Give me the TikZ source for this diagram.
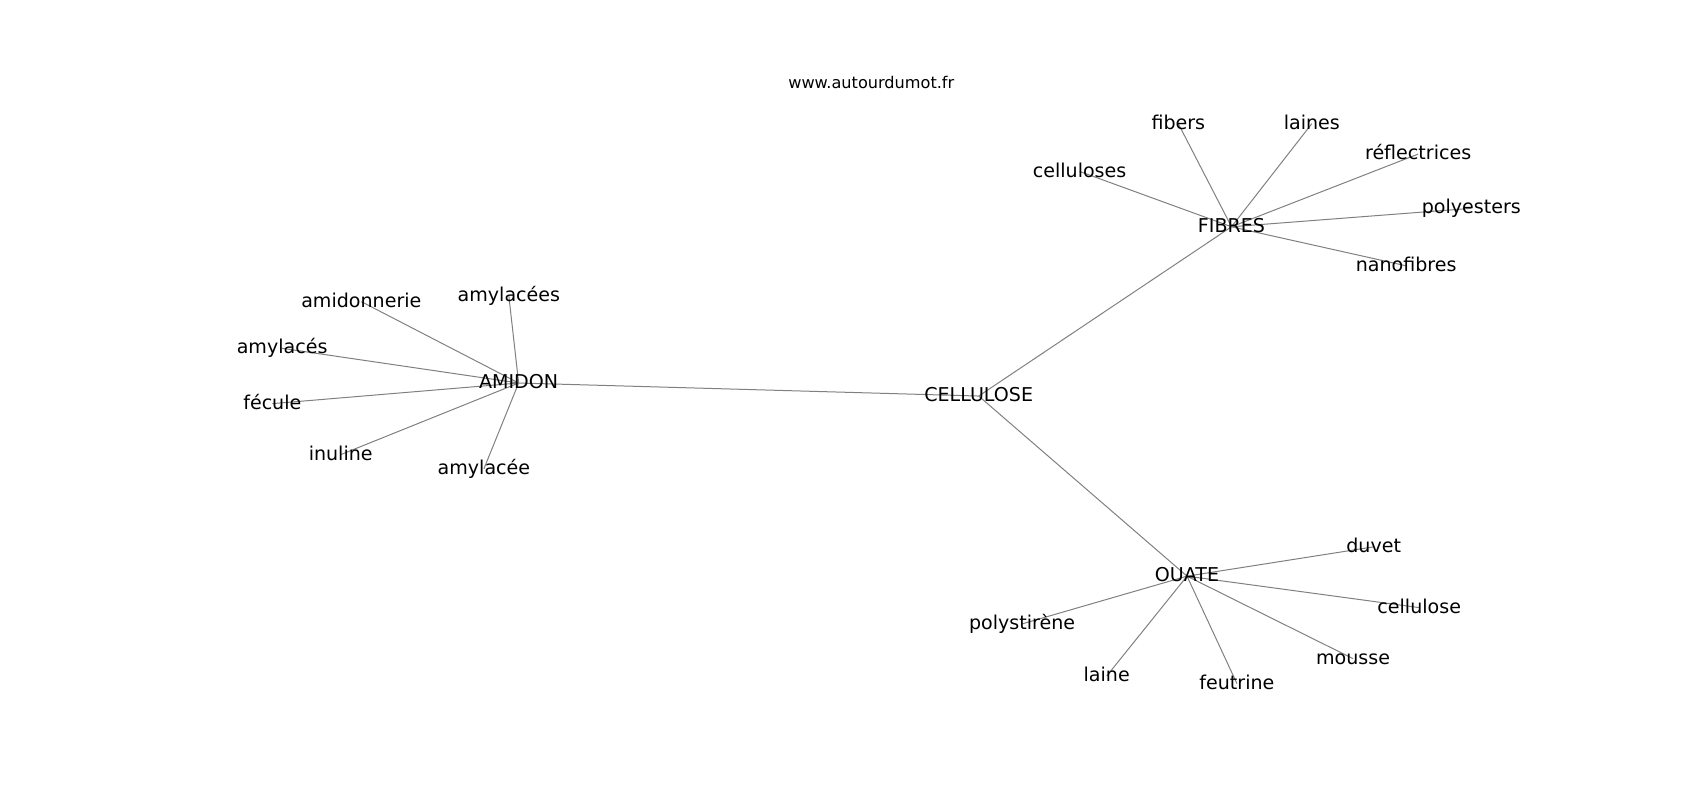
\documentclass[tikz,border=0pt]{standalone}
\usepackage{fontspec}
\setmainfont{DejaVu Sans}
\usetikzlibrary{backgrounds}
\tikzset{word/.style = {font=\fontsize{14.3}{16}\selectfont, inner sep=0pt,
                        text height=0.92em, text depth=0.08em},
         link/.style = {draw=gray, line width=0.75pt}}

\begin{document}
\begin{tikzpicture}[x=0.81375pt, y=-0.81375pt]
    \useasboundingbox (0, 0) rectangle (1566.8, 737.3);
    \node [font=\fontsize{12.1}{14}\selectfont, inner sep=0pt] (site) at (803, 76) {www.autourdumot.fr};

    \node [word] (cellulose) at (902, 365) {CELLULOSE};
    \node [word] (amidon) at (478, 353) {AMIDON};
    \node [word] (fibres) at (1135, 209) {FIBRES};
    \node [word] (ouate) at (1094, 531) {OUATE};
    \begin{scope}[on background layer]
      \draw [link] (cellulose.center) -- (amidon.center);
      \draw [link] (cellulose.center) -- (fibres.center);
      \draw [link] (cellulose.center) -- (ouate.center);
    \end{scope}

    % leaves: hub/name/x/y/text
    \foreach \hub/\n/\x/\y/\t in {amidon/amidonnerie/333/278/amidonnerie,
                                  amidon/amylacees/469/273/amylacées,
                                  amidon/amylaces/260/321/amylacés,
                                  amidon/fecule/251/372/fécule,
                                  amidon/inuline/314/419/inuline,
                                  amidon/amylacee/446/432/amylacée,
                                  fibres/celluloses/995/158/celluloses,
                                  fibres/fibers/1086/114/fibers,
                                  fibres/laines/1209/114/laines,
                                  fibres/reflectrices/1307/142/réflectrices,
                                  fibres/polyesters/1356/192/polyesters,
                                  fibres/nanofibres/1296/245/nanofibres,
                                  ouate/duvet/1266/504/duvet,
                                  ouate/cellulosebis/1308/560/cellulose,
                                  ouate/mousse/1247/607/mousse,
                                  ouate/feutrine/1140/630/feutrine,
                                  ouate/laine/1020/623/laine,
                                  ouate/polystirene/942/575/polystirène} {
      \node [word] (\n) at (\x, \y) {\t};
      \begin{scope}[on background layer]
        \draw [link] (\hub.center) -- (\n.center);
      \end{scope}
    }
\end{tikzpicture}
\end{document}
